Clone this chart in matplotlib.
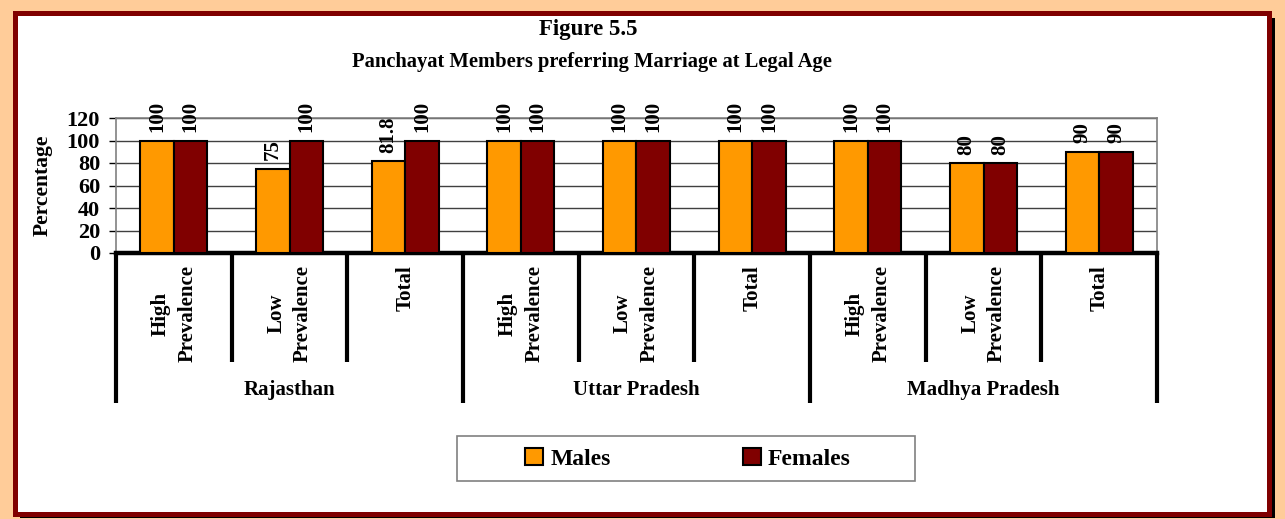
import matplotlib
matplotlib.use('Agg')
import matplotlib.pyplot as plt
from matplotlib.patches import Rectangle, Patch

# data
states = ['Rajasthan', 'Uttar Pradesh', 'Madhya Pradesh']
areas = ['High\nPrevalence', 'Low\nPrevalence', 'Total']
males = [100, 75, 81.8, 100, 100, 100, 100, 80, 90]
females = [100, 100, 100, 100, 100, 100, 100, 80, 90]
series_names = ['Males', 'Females']
yticks = [0, 20, 40, 60, 80, 100, 120]

plt.rcParams['font.family'] = ['Liberation Serif', 'DejaVu Serif']
plt.rcParams['font.weight'] = 'bold'
FS = 15

W, H = 1285, 519
fig = plt.figure(figsize=(W / 100, H / 100), dpi=100)
fig.patch.set_facecolor('#FFCC99')

def fx(x):
    return x / W

def fy(y):
    return 1 - y / H

# frame: shadow + white panel with dark red border
fig.add_artist(Rectangle((fx(20), fy(518)), fx(1275) - fx(20), fy(18) - fy(518),
                         transform=fig.transFigure, facecolor='black', edgecolor='none', zorder=-3))
fig.add_artist(Rectangle((fx(14.5), fy(514.2)), fx(1268.7) - fx(14.5), fy(13) - fy(514.2),
                         transform=fig.transFigure, facecolor='white', edgecolor='#800000',
                         linewidth=3.6, zorder=-2))

fig.text(fx(588), fy(29), 'Figure 5.5', ha='center', va='center', fontsize=16.5, fontweight='bold')
fig.text(fx(592), fy(62), 'Panchayat Members preferring Marriage at Legal Age',
         ha='center', va='center', fontsize=14.8, fontweight='bold')

ax = fig.add_axes([fx(116), fy(253), fx(1157) - fx(116), fy(118) - fy(253)])
ax.set_facecolor('white')
ax.set_zorder(1)

n = len(males)
xs = list(range(n))
bw = 0.29
mb = ax.bar([x - bw / 2 for x in xs], males, bw, color='#FF9900', edgecolor='black', linewidth=1.5, zorder=3)
fb = ax.bar([x + bw / 2 for x in xs], females, bw, color='#800000', edgecolor='black', linewidth=1.5, zorder=3)

for bars, vals in ((mb, males), (fb, females)):
    for b, v in zip(bars, vals):
        ax.annotate('%g' % v, (b.get_x() + b.get_width() / 2, v), xytext=(0, 6),
                    textcoords='offset points', rotation=90, ha='center', va='bottom',
                    fontsize=FS, fontweight='bold', annotation_clip=False)

ax.set_xlim(-0.5, n - 0.5)
ax.set_ylim(0, 120)
ax.set_yticks(yticks)
ax.set_yticklabels([str(t) for t in yticks], fontsize=16, fontweight='bold')
ax.set_xticks([])
ax.yaxis.grid(True, color='#404040', linewidth=1, zorder=1)
ax.set_axisbelow(True)
ax.tick_params(axis='y', direction='out', length=5, width=1, color='black', pad=6.5)
for s in ('left', 'top', 'right'):
    ax.spines[s].set_color('#808080')
    ax.spines[s].set_linewidth(1.2)
ax.spines['bottom'].set_color('black')
ax.spines['bottom'].set_linewidth(3.2)

fig.text(fx(43), fy(185), 'Percentage', rotation=90, ha='center', va='center',
         fontsize=15.6, fontweight='bold')

# category axis
trans = ax.get_xaxis_transform()
for i in xs:
    ax.text(i, -0.089, areas[i % 3], transform=trans, rotation=90, ha='center', va='top',
            multialignment='center', fontsize=FS, fontweight='bold', linespacing=1.45)
for k in range(1, n):
    if k % 3 != 0:
        ax.plot([k - 0.5, k - 0.5], [0, -0.807], transform=trans, color='black',
                linewidth=3, clip_on=False, solid_capstyle='butt')
for k in range(0, n + 1, 3):
    ax.plot([k - 0.5, k - 0.5], [0, -1.111], transform=trans, color='black',
            linewidth=3, clip_on=False, solid_capstyle='butt')
for j, s in enumerate(states):
    ax.text(3 * j + 1, -1.015, s, transform=trans, ha='center', va='center',
            fontsize=FS, fontweight='bold')

# legend
fig.add_artist(Rectangle((fx(457), fy(481)), fx(915) - fx(457), fy(436) - fy(481),
                         transform=fig.transFigure, facecolor='white', edgecolor='#808080',
                         linewidth=1.2, zorder=1))
handles = [Patch(facecolor='#FF9900', edgecolor='black', linewidth=1.5),
           Patch(facecolor='#800000', edgecolor='black', linewidth=1.5)]
leg = fig.legend(handles, series_names, loc='center', bbox_to_anchor=(fx(688), fy(459)),
                 ncol=2, frameon=False, handlelength=0.75, handleheight=0.75,
                 handletextpad=0.3, columnspacing=5.6,
                 prop={'size': 17, 'weight': 'bold', 'family': 'Liberation Serif'})
leg.set_zorder(2)

fig.savefig('out.png', dpi=100, facecolor=fig.get_facecolor())
